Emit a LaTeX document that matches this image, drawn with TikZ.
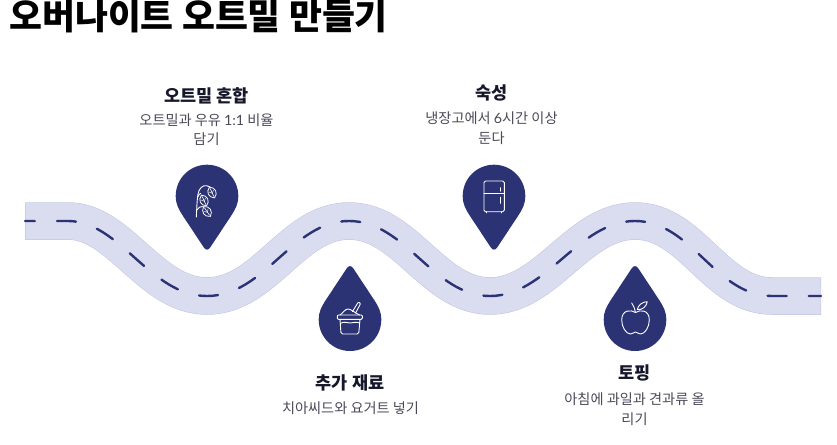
\documentclass[tikz,border=0pt]{standalone}
\usepackage{fontspec}
\setmainfont{Noto Sans CJK KR}
\newfontfamily\latofont{Lato}
\definecolor{road}{HTML}{DADCF0}
\definecolor{roadedge}{HTML}{C2C5DF}
\definecolor{navy}{HTML}{2B3374}
\definecolor{ink}{HTML}{17172B}
\definecolor{body}{HTML}{4A4A58}
\newcommand{\pinfill}{\fill[navy] (-3.5,51) .. controls (-1.5,54.5) and (1.5,54.5) .. (3.5,51) -- (24,20) .. controls (28.5,13) and (31.3,8) .. (31.3,0) .. controls (31.3,-17.3) and (17.3,-31.3) .. (0,-31.3) .. controls (-17.3,-31.3) and (-31.3,-17.3) .. (-31.3,0) .. controls (-31.3,8) and (-28.5,13) .. (-24,20) -- cycle;}
\newcommand{\grain}[3]{\begin{scope}[shift={(#1,#2)},rotate=#3]
\draw[icon,fill=navy,line width=0.8pt] (0,-6) .. controls (5.4,-3) and (5.4,3) .. (0,6) .. controls (-5.4,3) and (-5.4,-3) .. (0,-6) -- cycle;
\draw[icon,line width=0.6pt] (0,-4.5) -- (0,4.5);
\draw[icon,line width=0.5pt] (-2.2,-1.5) -- (0,1) -- (2.2,-1.5);
\end{scope}}
\tikzset{
  icon/.style={draw=white,line width=0.9pt,line cap=round,line join=round},
  heading/.style={font=\fontsize{17.5}{22}\selectfont\bfseries,text=ink,anchor=center,inner sep=0},
  bodytext/.style={font=\fontsize{14.2}{19.5}\selectfont,text=body,align=center,anchor=center,inner sep=0},
}
\begin{document}
\begin{tikzpicture}[x=1pt,y=-1pt]
\useasboundingbox (0,0) rectangle (837,444);
\def\roadpath{(25,221) -- (68,221) .. controls (120,221) and (150,296) .. (207,296) .. controls (265,296) and (292,221) .. (349,221) .. controls (406,221) and (433,296) .. (490,296) .. controls (547,296) and (578,221) .. (635,221) .. controls (692,221) and (715,296) .. (772,296) -- (821,296)}
\draw[roadedge,line width=37.5pt] \roadpath;
\draw[road,line width=36.5pt] (25.5,221) -- (68,221) .. controls (120,221) and (150,296) .. (207,296) .. controls (265,296) and (292,221) .. (349,221) .. controls (406,221) and (433,296) .. (490,296) .. controls (547,296) and (578,221) .. (635,221) .. controls (692,221) and (715,296) .. (772,296) -- (820.5,296);
\draw[navy,line width=2.4pt,line cap=round,dash pattern=on 19pt off 22.2pt,dash phase=9.2pt] \roadpath;
\node[font=\fontsize{35.8}{40}\selectfont\bfseries,text=black,anchor=west,inner sep=0] (title) at (9,16.5) {오버나이트 오트밀 만들기};
% pin 1: oat
\begin{scope}[shift={(207,196)}]
\pinfill
\draw[icon] (-10.7,21) .. controls (-10.2,12) and (-10,4) .. (-9,-2) .. controls (-8,-8) and (-4,-11) .. (-0.5,-10.3) .. controls (2,-9.8) and (3,-9) .. (3.5,-8.5);
\draw[icon] (-10.3,14) .. controls (-8.5,11.5) and (-7,10.5) .. (-4.5,10.5);
\draw[icon] (-9.3,1) .. controls (-8.5,-1) and (-7.5,-2) .. (-6.5,-2.5);
\grain{5}{-3.5}{25}
\grain{-3}{4.5}{25}
\grain{0}{15.5}{35}
\end{scope}
% pin 2: yogurt
\begin{scope}[shift={(350,319.7)},yscale=-1]
\pinfill
\end{scope}
\begin{scope}[shift={(350,322)}]
\draw[icon,rounded corners=1pt] (-12.7,-7) rectangle (12.3,-2.7);
\draw[icon,rounded corners=1.5pt] (-10,-2.7) -- (-9,12) -- (8.7,12) -- (10,-2.7);
\draw[icon] (-10,-7) .. controls (-7,-9) and (-5,-13) .. (-2,-13) .. controls (1,-13) and (5,-9) .. (9.5,-7);
\draw[icon,rounded corners=1pt] (2.5,-10.5) -- (8.3,-20) -- (10.7,-18.7) -- (5.6,-9);
\draw[icon] (-9.7,1.5) .. controls (-6,-1) and (-3,1) .. (0,1) .. controls (3,1) and (6,-0.5) .. (9.7,1);
\end{scope}
% pin 3: fridge
\begin{scope}[shift={(494,196)}]
\pinfill
\draw[icon,rounded corners=1.5pt] (-10,-15) rectangle (10.3,15.7);
\draw[icon] (-10,-2.7) -- (10.3,-2.7);
\draw[icon] (6.3,-8.3) -- (6.3,-4.8);
\draw[icon] (6.3,1.3) -- (6.3,7.3);
\draw[icon] (-7.3,15.7) -- (-7.3,17);
\draw[icon] (7.7,15.7) -- (7.7,17);
\end{scope}
% pin 4: apple
\begin{scope}[shift={(635,319.7)},yscale=-1]
\pinfill
\end{scope}
\begin{scope}[shift={(635,322)}]
\draw[icon] (0.5,-9.5) .. controls (-4,-12.5) and (-13.3,-12.5) .. (-13.3,-2) .. controls (-13.3,5) and (-9,12) .. (-4.5,12) .. controls (-2,12) and (-1,10) .. (0.5,10) .. controls (2,10) and (3,12) .. (5.5,12) .. controls (10,12) and (14.3,5) .. (14.3,-2) .. controls (14.3,-12.5) and (5,-12.5) .. (0.5,-9.5) -- cycle;
\draw[icon] (0.5,-9.5) .. controls (0,-13) and (-1.5,-16.5) .. (-3.3,-19);
\draw[icon] (2.3,-12.5) .. controls (3,-17) and (8,-20.5) .. (12.3,-20.3) .. controls (11.5,-15.5) and (7,-11.5) .. (2.3,-12.5) -- cycle;
\end{scope}
\node[heading] (h1) at (206.5,95.5) {오트밀 혼합};
\node[bodytext] (b1) at (206.5,129.7) {오트밀과 우유 {\latofont 1:1} 비율\\담기};
\node[heading] (h2) at (350,382.5) {추가 재료};
\node[bodytext] (b2) at (350.5,408.5) {치아씨드와 요거트 넣기};
\node[heading] (h3) at (491.5,92.5) {숙성};
\node[bodytext] (b3) at (491.5,128) {냉장고에서 {\latofont 6}시간 이상\\둔다};
\node[heading] (h4) at (634.5,373) {토핑};
\node[bodytext] (b4) at (634.5,409) {아침에 과일과 견과류 올\\리기};
\end{tikzpicture}
\end{document}
